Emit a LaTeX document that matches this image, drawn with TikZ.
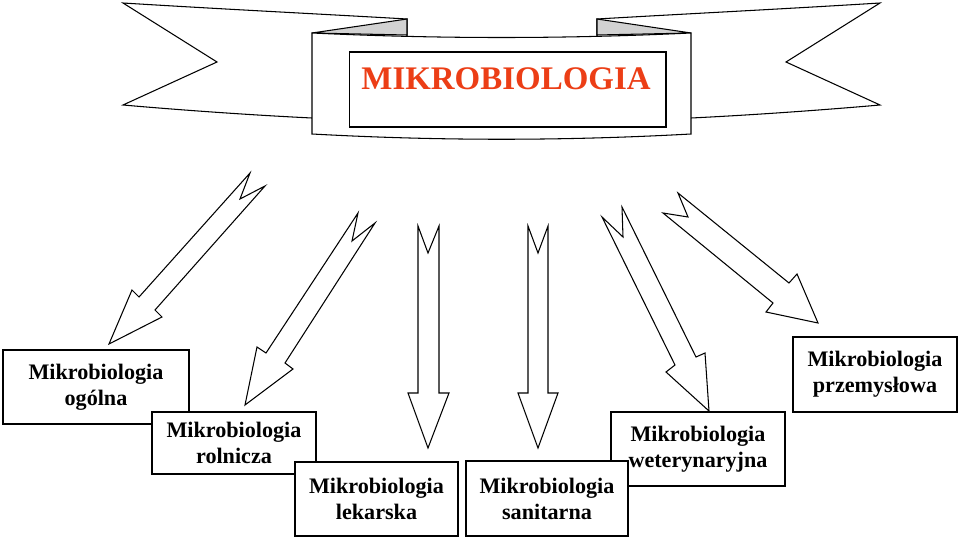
\documentclass[tikz,border=0pt]{standalone}
\usepackage{fontspec}
\setmainfont{Liberation Serif}
\definecolor{titlered}{RGB}{236,62,22}
\definecolor{foldgray}{RGB}{210,210,210}
\begin{document}
\begin{tikzpicture}[x=0.02cm,y=-0.02cm,
  line join=miter,
  ln/.style={draw=black, line width=0.6pt},
  bannerpart/.style={ln, fill=white},
  foldpart/.style={ln, fill=foldgray},
  blockarrow/.style={ln, fill=white},
  box/.style={ln, fill=white, rectangle, inner sep=0pt, align=center,
    font=\fontsize{12.6}{14.8}\selectfont\bfseries},
  titletext/.style={text=titlered, inner sep=0pt, anchor=base,
    font=\fontsize{18.75}{22}\selectfont\bfseries}]
\useasboundingbox (0,0) rectangle (960,537);

% ---- banner: left tail
\draw[bannerpart] (123,3) .. controls (220,9) and (320,14) .. (407,19) -- (407,60) -- (312,118)
  .. controls (250,115) and (180,110) .. (123,105) -- (217,62) -- cycle;
% ---- banner: right tail
\draw[bannerpart] (880,3) .. controls (783,9) and (683,14) .. (597,19) -- (597,60) -- (691,118)
  .. controls (753,115) and (823,110) .. (880,105) -- (786,62) -- cycle;
% ---- folds
\draw[foldpart] (407,19) -- (312,33) -- (407,35) -- cycle;
\draw[foldpart] (597,19) -- (691,33) -- (597,35) -- cycle;
% ---- front panel
\draw[bannerpart] (312,33) .. controls (440,39) and (563,39) .. (691,33) -- (691,134)
  .. controls (563,141) and (440,141) .. (312,134) -- cycle;
\node[ln, fill=white, minimum width=6.34cm, minimum height=1.5cm, inner sep=0pt] (frame) at (507.5,89.5) {};
\node[titletext] (title) at (506,90) {MIKROBIOLOGIA};

% ---- block arrows
\draw[blockarrow] (250,173) -- (139,297) -- (132,290) -- (109,344) -- (162,317) -- (155,310)
  -- (265,186) -- (240,199) -- cycle;
\draw[blockarrow] (358,213) -- (266,353) -- (257,347) -- (245,405) -- (293,369) -- (285,363)
  -- (375,223) -- (352,241) -- cycle;
\draw[blockarrow] (418,226) -- (418,393) -- (408,393) -- (428,448) -- (449,393) -- (439,393)
  -- (439,226) -- (428,253) -- cycle;
\draw[blockarrow] (528,226) -- (528,393) -- (518,393) -- (538,448) -- (558,393) -- (548,393)
  -- (548,226) -- (538,253) -- cycle;
\draw[blockarrow] (602,217) -- (675,365) -- (666,372) -- (709,411) -- (705,353) -- (696,357)
  -- (622,207) -- (623,237) -- cycle;
\draw[blockarrow] (663,213) -- (773,303) -- (766,312) -- (818,323) -- (797,274) -- (789,283)
  -- (678,193) -- (688,217) -- cycle;

% ---- boxes
\node[box, minimum width=3.72cm, minimum height=1.48cm] (ogolna) at (96,387) {Mikrobiologia\\ogólna};
\node[box, minimum width=3.28cm, minimum height=1.24cm] (rolnicza) at (234,443) {Mikrobiologia\\rolnicza};
\node[box, minimum width=3.26cm, minimum height=1.48cm] (lekarska) at (376.5,499) {Mikrobiologia\\lekarska};
\node[box, minimum width=3.48cm, minimum height=1.48cm] (wet) at (698,449) {Mikrobiologia\\weterynaryjna};
\node[box, minimum width=3.24cm, minimum height=1.50cm] (sanitarna) at (547,498.5) {Mikrobiologia\\sanitarna};
\node[box, minimum width=3.28cm, minimum height=1.50cm] (przem) at (875,374.5) {Mikrobiologia\\przemysłowa};
\end{tikzpicture}
\end{document}
